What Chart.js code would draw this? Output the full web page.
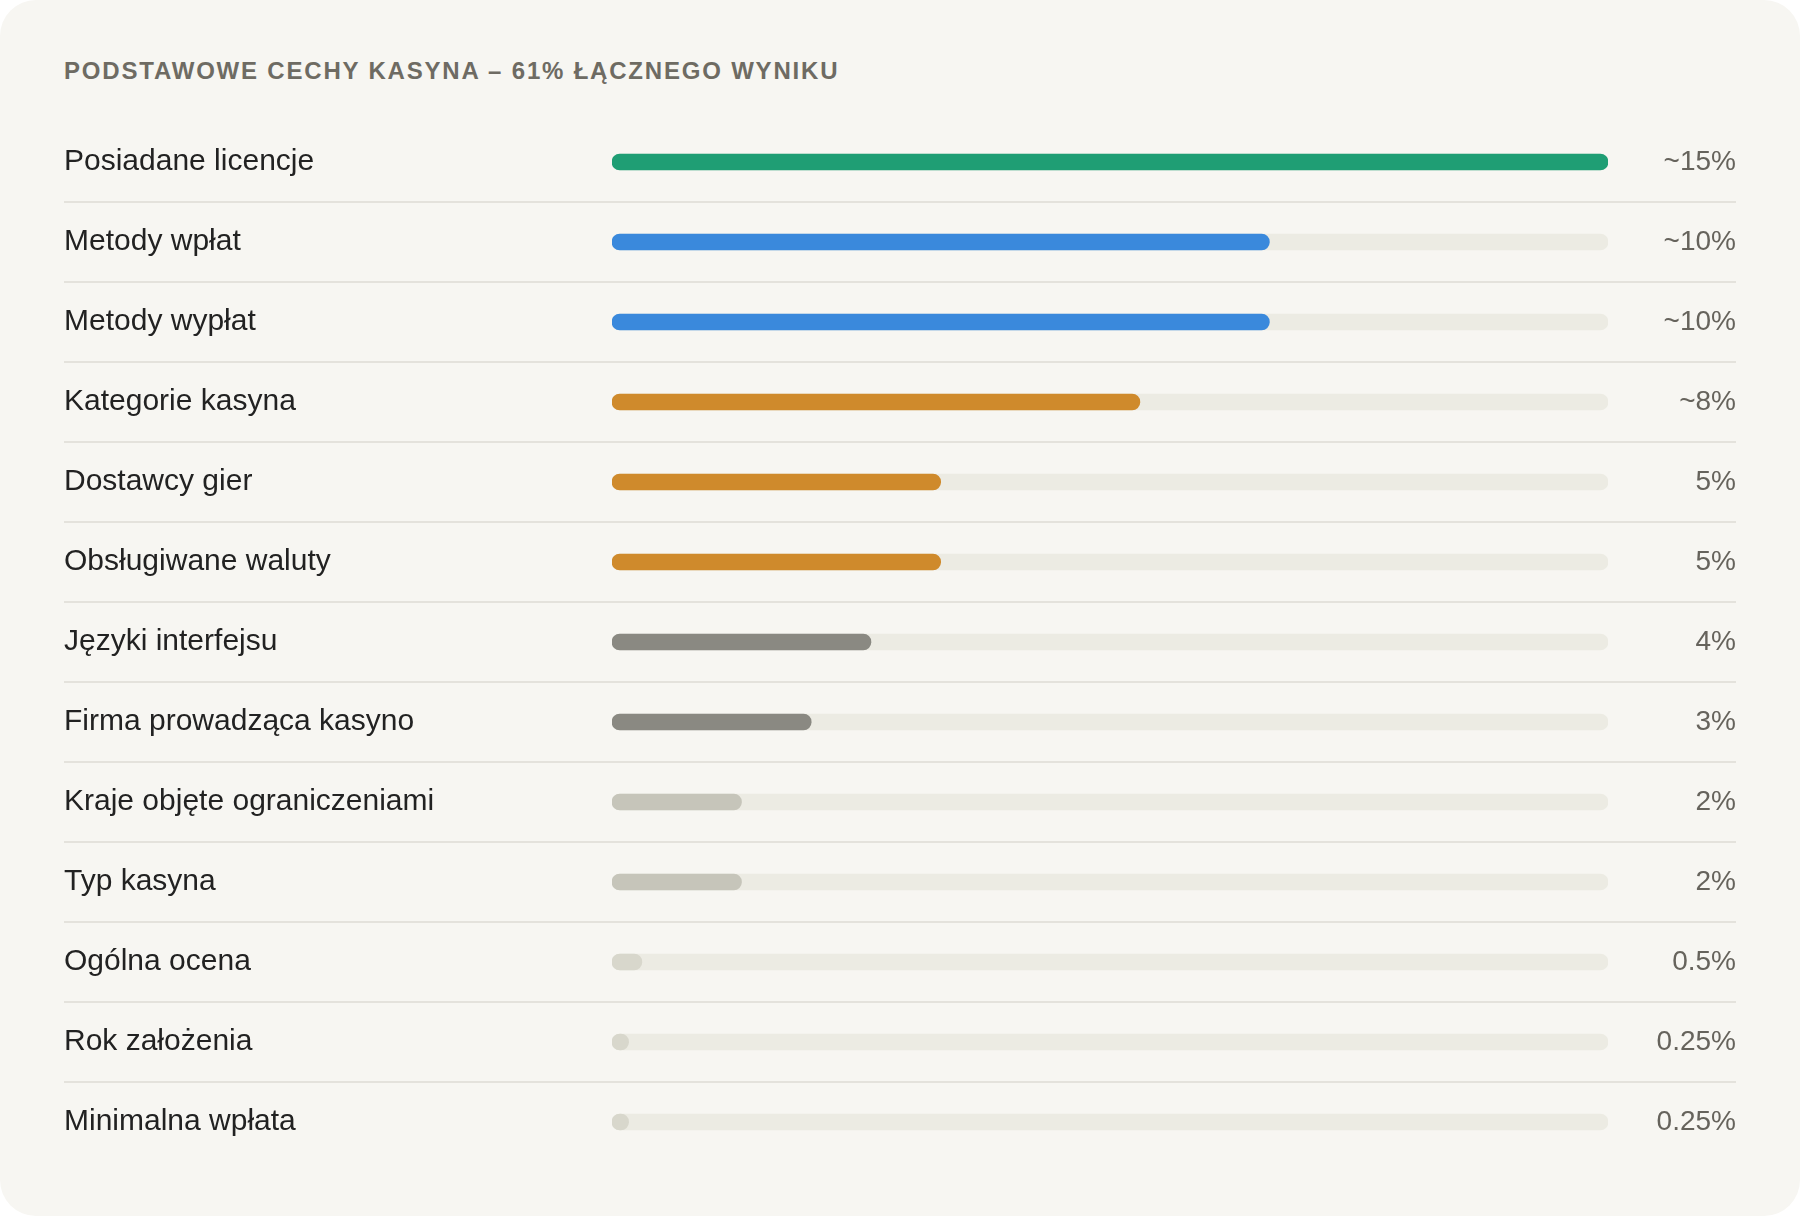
<!DOCTYPE html>
<html lang="pl">
<head>
<meta charset="utf-8">
<script src="https://cdn.jsdelivr.net/npm/chart.js@4.4.1/dist/chart.umd.min.js"></script>
<style>
  html, body { margin: 0; padding: 0; background: #ffffff; }
  #card {
    position: absolute; left: 0; top: 0; width: 1800px; height: 1216px;
    background: #f7f6f2; border-radius: 36px; overflow: hidden;
  }
  #title {
    position: absolute; left: 64px; top: 57px; margin: 0;
    font: bold 24px/28px "Liberation Sans", Arial, Helvetica, sans-serif;
    letter-spacing: 1.8px; color: #6e6b63; white-space: nowrap;
  }
  #wrap { position: absolute; left: 64px; top: 0; width: 1672px; height: 1216px; }
</style>
</head>
<body>
<div id="card">
  <h2 id="title">PODSTAWOWE CECHY KASYNA – 61% ŁĄCZNEGO WYNIKU</h2>
  <div id="wrap"><canvas id="graph"></canvas></div>
</div>
<script>
const categories = [
    "Posiadane licencje", "Metody wpłat", "Metody wypłat", "Kategorie kasyna",
    "Dostawcy gier", "Obsługiwane waluty", "Języki interfejsu", "Firma prowadząca kasyno",
    "Kraje objęte ograniczeniami", "Typ kasyna", "Ogólna ocena", "Rok założenia", "Minimalna wpłata"
]
const weights = [15, 9.9, 9.9, 7.95, 4.95, 4.95, 3.9, 3, 1.95, 1.95, 0.45, 0.25, 0.25]
const valueLabels = ["~15%", "~10%", "~10%", "~8%", "5%", "5%", "4%", "3%", "2%", "2%", "0.5%", "0.25%", "0.25%"]
const maxWeight = 15
const barColors = ['#1f9e74', '#3a89dc', '#3a89dc', '#cf8a2c', '#cf8a2c', '#cf8a2c',
    '#8a8982', '#8a8982', '#c6c5ba', '#c6c5ba', '#d8d7cc', '#d8d7cc', '#d8d7cc']

const fontFamily = '"Liberation Sans", Arial, Helvetica, sans-serif'

// lines between rows, across the whole card width
const separators = {
    id: 'separators',
    beforeDatasetsDraw(chart) {
        const y = chart.scales.y
        const ctx = chart.ctx
        const left = y.left
        const right = chart.scales.y2.right
        ctx.save()
        ctx.strokeStyle = '#e4e2dc'
        ctx.lineWidth = 2
        for (let i = 0; i < categories.length - 1; i++) {
            const py = (y.getPixelForTick(i) + y.getPixelForTick(i + 1)) / 2
            ctx.beginPath()
            ctx.moveTo(left, py)
            ctx.lineTo(right, py)
            ctx.stroke()
        }
        ctx.restore()
    }
}

const ctx = document.querySelector('#graph').getContext('2d')

new Chart(ctx, {
    type: 'bar',
    data: {
        labels: categories,
        datasets: [
            {
                data: weights,
                backgroundColor: barColors,
                barThickness: 16,
                borderRadius: 8,
                borderSkipped: false,
                grouped: false,
                order: 0
            },
            {
                data: categories.map(() => maxWeight),
                backgroundColor: '#ecebe3',
                barThickness: 16,
                borderRadius: 8,
                borderSkipped: false,
                grouped: false,
                order: 1
            }
        ]
    },
    options: {
        indexAxis: 'y',
        responsive: true,
        maintainAspectRatio: false,
        animation: false,
        layout: { padding: { top: 122, bottom: 54, left: 0, right: 0 } },
        plugins: {
            legend: { display: false },
            tooltip: { enabled: false },
            title: { display: false }
        },
        scales: {
            x: {
                display: false,
                min: 0,
                max: maxWeight
            },
            y: {
                position: 'left',
                grid: { display: false },
                border: { display: false },
                ticks: {
                    crossAlign: 'far',
                    color: '#222222',
                    padding: 0,
                    font: { family: fontFamily, size: 30 }
                },
                afterFit(scale) { scale.width = 548 }
            },
            y2: {
                type: 'category',
                labels: valueLabels,
                position: 'right',
                offset: true,
                grid: { display: false },
                border: { display: false },
                ticks: {
                    crossAlign: 'far',
                    color: '#66635c',
                    padding: 0,
                    font: { family: fontFamily, size: 28 }
                },
                afterFit(scale) { scale.width = 128 }
            }
        }
    },
    plugins: [separators]
})
</script>
</body>
</html>
